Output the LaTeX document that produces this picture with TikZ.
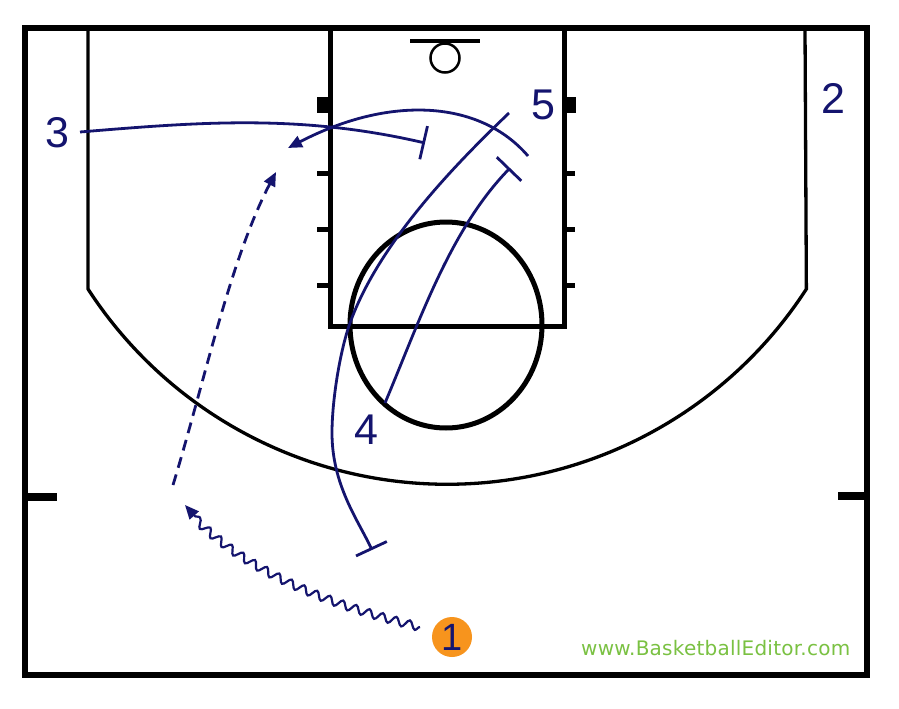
\documentclass[tikz,border=0pt]{standalone}
\usepackage{fontspec}
\setmainfont{Liberation Sans}
\newfontfamily\webfont[LetterSpace=1.2]{DejaVu Sans}
\usetikzlibrary{arrows.meta,decorations.pathmorphing}
\definecolor{navy}{RGB}{20,20,110}
\definecolor{ballorange}{RGB}{247,148,29}
\definecolor{webgreen}{RGB}{122,193,66}
\tikzset{
  courtline/.style={black, line width=#1},
  movepath/.style={navy, line width=2.8pt},
  cutarrow/.style={-{Triangle[length=14pt,width=12pt]}},
  screenbar/.style={-{Bar[width=34pt]}},
  player/.style={navy, inner sep=0pt, font=\fontsize{43}{43}\selectfont},
}
\begin{document}
\begin{tikzpicture}[x=1pt,y=-1pt]
\useasboundingbox (0,0) rectangle (899,709);
\fill[white] (0,0) rectangle (899,709);

% court
\draw[courtline=3.3pt] (88,28) -- (88,289) arc[start angle=147.06, end angle=32.94, radius=428] -- (805,28);
\draw[courtline=5pt] (330,28) rectangle (564.5,326.5);
\draw[courtline=5pt] (446,325) ellipse [x radius=96, y radius=103];
\draw[courtline=4.5pt] (410,41) -- (480,41);
\draw[courtline=2.5pt] (445,58) circle (14.5);
\fill (317,97) rectangle (330,113);
\fill (564.5,97) rectangle (576,113);
\foreach \yy in {173,229,285}{
  \draw[courtline=5pt] (317,\yy) -- (330,\yy);
  \draw[courtline=5pt] (564.5,\yy) -- (575,\yy);
}
\draw[courtline=8pt] (25,497) -- (57,497);
\draw[courtline=8pt] (838,496) -- (867,496);
\draw[courtline=6.5pt] (25,28) rectangle (867,675);

% players
\node[player] (p3) at (57,133) {3};
\node[player] (p2) at (833,98) {2};
\node[player] (p5) at (543,105) {5};
\node[player] (p4) at (366,430) {4};
\node[circle, fill=ballorange, minimum size=40pt, inner sep=0pt, text=navy,
      font=\fontsize{38}{38}\selectfont] (p1) at (452,637) {1};

% path endpoints
\coordinate (a0) at (80,132);  \coordinate (a1) at (425,143);
\coordinate (b0) at (528,156); \coordinate (b1) at (288,148);
\coordinate (c0) at (509,113); \coordinate (c1) at (372,550);
\coordinate (d0) at (385,403); \coordinate (d1) at (510,168);
\coordinate (e0) at (173,485); \coordinate (e1) at (276,172);
\coordinate (w0) at (420,627); \coordinate (w1) at (185,505);

% movements
\draw[movepath, screenbar] (a0) .. controls (200,122) and (300,114) .. (a1);
\draw[movepath, cutarrow] (b0) .. controls (480,100) and (390,95) .. (b1);
\draw[movepath, screenbar] (c0) .. controls (460,160) and (380,240) .. (350,323)
   .. controls (340,351) and (332,400) .. (332,433)
   .. controls (332,485) and (358,520) .. (c1);
\draw[movepath, screenbar] (d0) .. controls (420,320) and (450,230) .. (d1);
\draw[movepath, dash pattern=on 11pt off 7pt, cutarrow] (e0) .. controls (205,380) and (230,260) .. (e1);
\draw[movepath, line width=2.2pt, cutarrow, decorate,
      decoration={snake, amplitude=4pt, segment length=14pt, post length=10pt}]
   (w0) .. controls (330,605) and (240,570) .. (w1);

% website
\node[text=webgreen, font=\webfont\fontsize{20}{20}\selectfont, anchor=base west, inner sep=0pt]
   (web) at (581,655) {www.BasketballEditor.com};
\end{tikzpicture}
\end{document}
